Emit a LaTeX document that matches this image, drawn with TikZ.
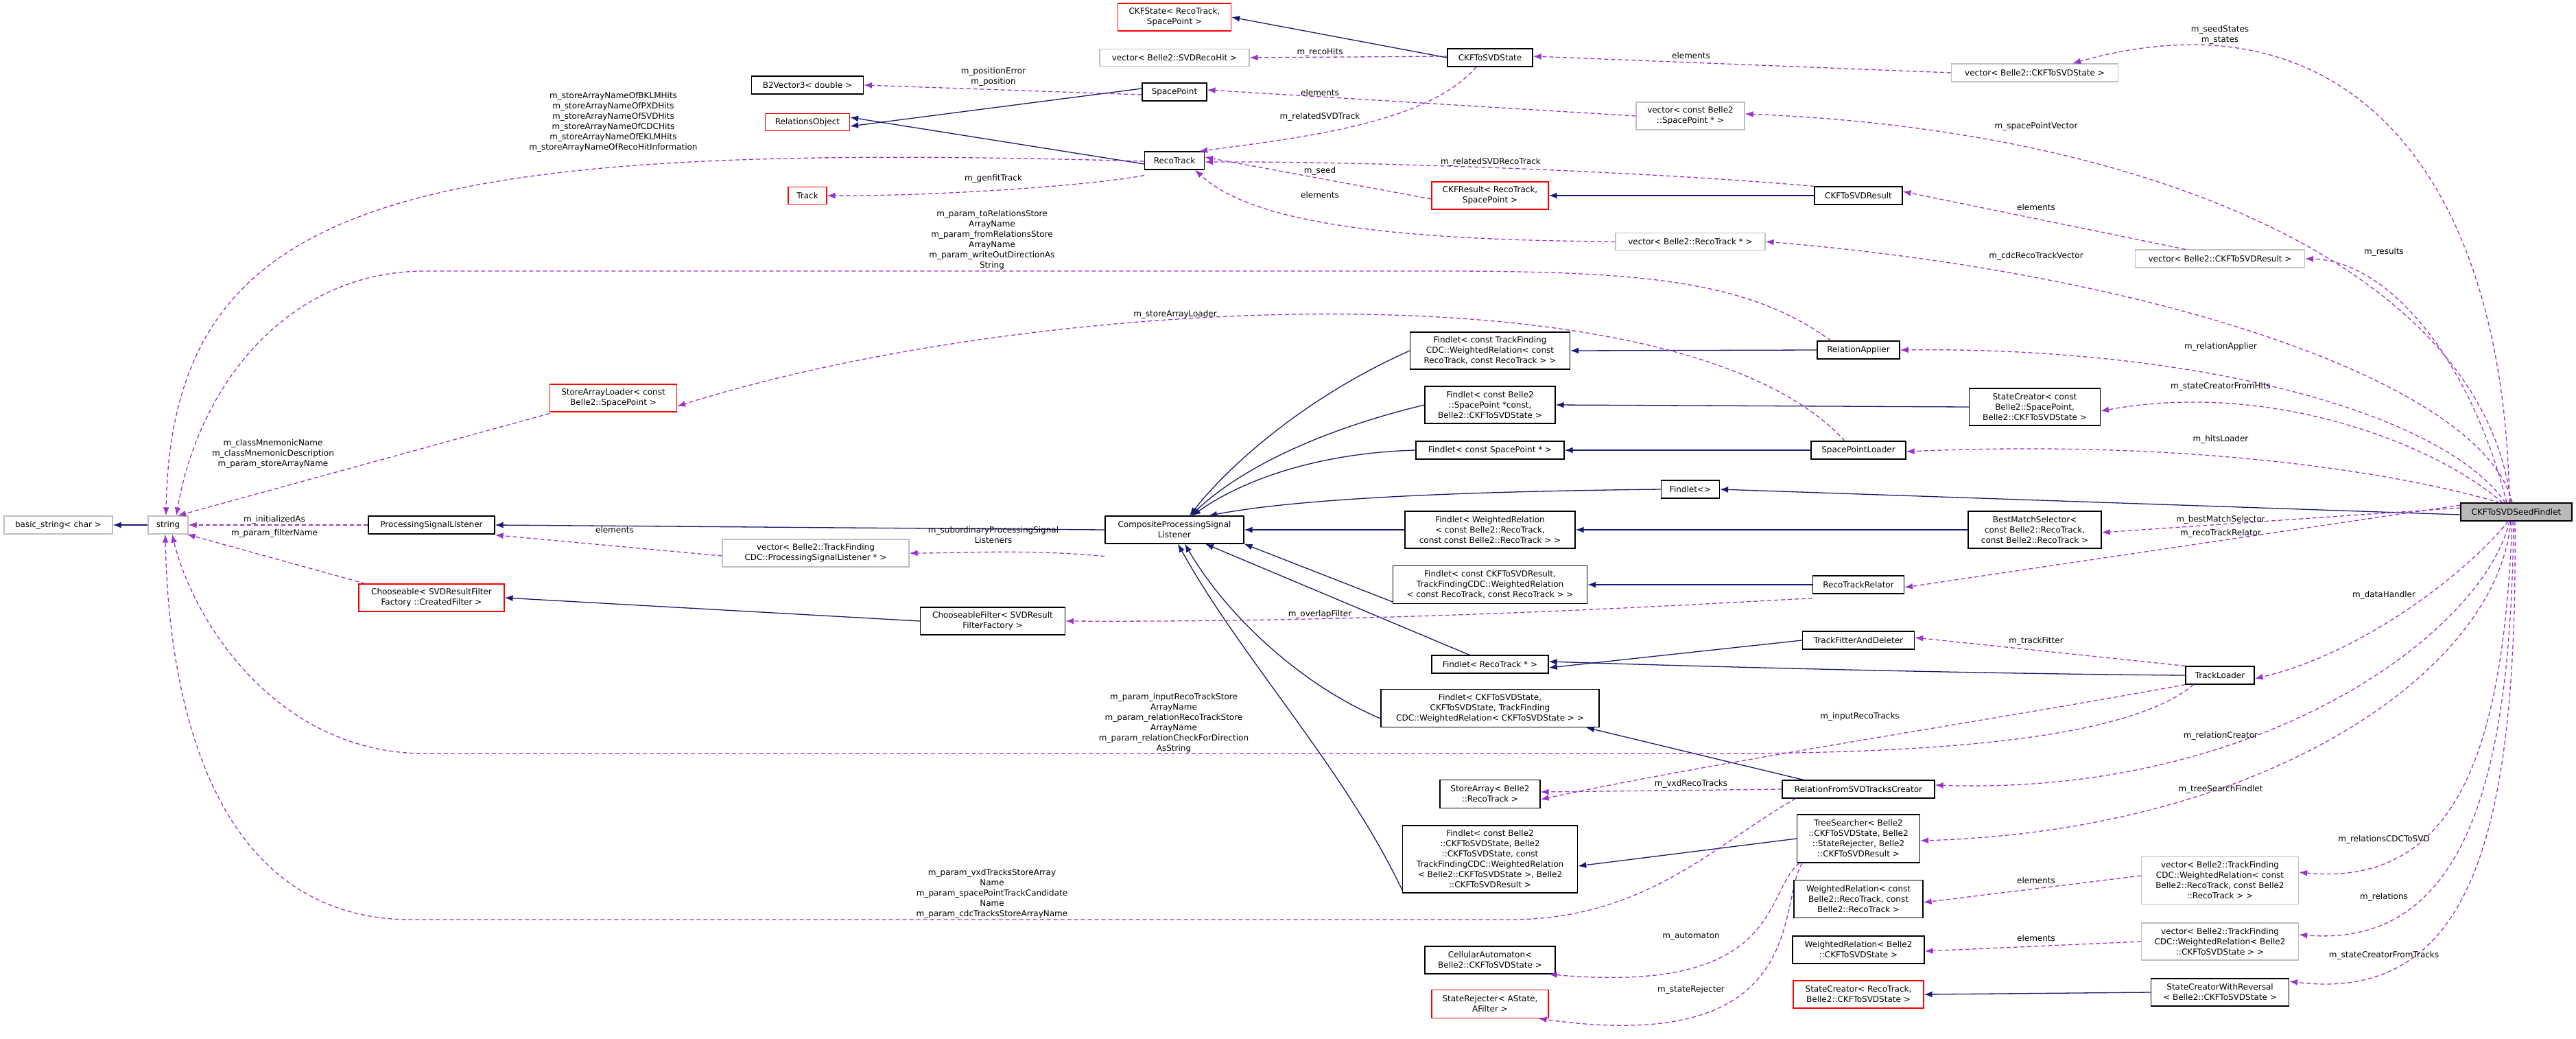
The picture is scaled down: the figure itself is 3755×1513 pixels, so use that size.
\documentclass[tikz,border=0pt]{standalone}
\usepackage{fontspec}
\setmainfont{DejaVu Sans}
\usetikzlibrary{arrows.meta}
\definecolor{inh}{HTML}{191970}
\definecolor{usec}{HTML}{9A32CD}
\definecolor{gbord}{HTML}{BFBFBF}
\tikzset{
  base/.style={font=\fontsize{12}{15}\selectfont, align=center, inner sep=0pt, fill=white, line width=1.2pt},
  cls/.style={base, draw=black},
  gcls/.style={base, draw=gbord},
  rcls/.style={base, draw=red},
  scls/.style={base, draw=black, fill=gray!55},
  lbl/.style={font=\fontsize{12}{15}\selectfont, align=center, inner sep=0pt},
  inhe/.style={draw=inh, line width=1.3pt, -{Latex[length=12pt,width=9pt]}},
  usee/.style={draw=usec, line width=1.3pt, dash pattern=on 6pt off 4pt, -{Latex[length=12pt,width=9pt]}},
}
\begin{document}
\begin{tikzpicture}[x=1pt,y=-1pt]
\useasboundingbox[fill=white] (0,0) rectangle (3755,1513);
% nodes
\node[cls, minimum width=163, minimum height=26] (b2v) at (1177,124) {B2Vector3< double >};
\node[rcls, minimum width=123, minimum height=25] (relobj) at (1177,178) {RelationsObject};
\node[rcls, minimum width=56, minimum height=25] (track) at (1177,285) {Track};
\node[rcls, minimum width=185, minimum height=40] (sal) at (894,580) {StoreArrayLoader< const\\Belle2::SpacePoint >};
\node[rcls, minimum width=165, minimum height=40] (ckfstate) at (1712,25) {CKFState< RecoTrack,\\SpacePoint >};
\node[gcls, minimum width=218, minimum height=25] (vsvdhit) at (1712,84) {vector< Belle2::SVDRecoHit >};
\node[cls, minimum width=124, minimum height=26] (ckfsvdstate) at (2172,84) {CKFToSVDState};
\node[cls, minimum width=94, minimum height=26] (sp) at (1712,134) {SpacePoint};
\node[gcls, minimum width=158, minimum height=40] (vsp) at (2464,169) {vector< const Belle2\\::SpacePoint * >};
\node[cls, minimum width=87, minimum height=26] (rt) at (1712,234) {RecoTrack};
\node[rcls, minimum width=170, minimum height=40] (ckfres) at (2172,285) {CKFResult< RecoTrack,\\SpacePoint >};
\node[gcls, minimum width=218, minimum height=25] (vrt) at (2464,352) {vector< Belle2::RecoTrack * >};
\node[cls, minimum width=233, minimum height=54] (f1) at (2172,511) {Findlet< const TrackFinding\\CDC::WeightedRelation< const\\RecoTrack, const RecoTrack > >};
\node[cls, minimum width=190, minimum height=54] (f2) at (2172,590) {Findlet< const Belle2\\::SpacePoint *const,\\Belle2::CKFToSVDState >};
\node[cls, minimum width=216, minimum height=26] (f3) at (2172,656) {Findlet< const SpacePoint * >};
\node[cls, minimum width=85, minimum height=26] (f4) at (2464,713) {Findlet<>};
\node[gcls, minimum width=243, minimum height=26] (vstate) at (2966,106) {vector< Belle2::CKFToSVDState >};
\node[cls, minimum width=128, minimum height=26] (ckfsvdres) at (2709,285) {CKFToSVDResult};
\node[gcls, minimum width=247, minimum height=26] (vres) at (3236,377) {vector< Belle2::CKFToSVDResult >};
\node[cls, minimum width=120, minimum height=26] (relapp) at (2709,510) {RelationApplier};
\node[cls, minimum width=191, minimum height=54] (sc1) at (2966,593) {StateCreator< const\\Belle2::SpacePoint,\\Belle2::CKFToSVDState >};
\node[cls, minimum width=138, minimum height=26] (spl) at (2709,656) {SpacePointLoader};
\node[scls, minimum width=162, minimum height=26] (seed) at (3668,746) {CKFToSVDSeedFindlet};
\node[gcls, minimum width=158, minimum height=26] (bstr) at (85,765) {basic\_string< char >};
\node[gcls, minimum width=58, minimum height=26] (str) at (245,765) {string};
\node[cls, minimum width=184, minimum height=26] (psl) at (629,765) {ProcessingSignalListener};
\node[gcls, minimum width=272, minimum height=40] (vpsl) at (1189,806) {vector< Belle2::TrackFinding\\CDC::ProcessingSignalListener * >};
\node[rcls, minimum width=212, minimum height=40] (choos) at (629,871) {Chooseable< SVDResultFilter\\Factory ::CreatedFilter >};
\node[cls, minimum width=202, minimum height=40] (cpsl) at (1712,772) {CompositeProcessingSignal\\Listener};
\node[cls, minimum width=248, minimum height=54] (f5) at (2172,772) {Findlet< WeightedRelation\\< const Belle2::RecoTrack,\\const const Belle2::RecoTrack > >};
\node[cls, minimum width=283, minimum height=55] (f6) at (2172,852) {Findlet< const CKFToSVDResult,\\TrackFindingCDC::WeightedRelation\\< const RecoTrack, const RecoTrack > >};
\node[cls, minimum width=211, minimum height=40] (cfilt) at (1447,905) {ChooseableFilter< SVDResult\\FilterFactory >};
\node[cls, minimum width=170, minimum height=26] (frt) at (2172,968) {Findlet< RecoTrack * >};
\node[cls, minimum width=318, minimum height=55] (f8) at (2172,1032) {Findlet< CKFToSVDState,\\CKFToSVDState, TrackFinding\\CDC::WeightedRelation< CKFToSVDState > >};
\node[cls, minimum width=146, minimum height=41] (sa) at (2172,1157) {StoreArray< Belle2\\::RecoTrack >};
\node[cls, minimum width=255, minimum height=98] (f9) at (2172,1252) {Findlet< const Belle2\\::CKFToSVDState, Belle2\\::CKFToSVDState, const\\TrackFindingCDC::WeightedRelation\\< Belle2::CKFToSVDState >, Belle2\\::CKFToSVDResult >};
\node[cls, minimum width=190, minimum height=40] (ca) at (2172,1399) {CellularAutomaton<\\Belle2::CKFToSVDState >};
\node[rcls, minimum width=170, minimum height=41] (srej) at (2172,1463) {StateRejecter< AState,\\AFilter >};
\node[cls, minimum width=222, minimum height=26] (rfc) at (2709,1150) {RelationFromSVDTracksCreator};
\node[cls, minimum width=194, minimum height=54] (bms) at (2966,772) {BestMatchSelector<\\const Belle2::RecoTrack,\\const Belle2::RecoTrack >};
\node[cls, minimum width=133, minimum height=26] (rtr) at (2709,852) {RecoTrackRelator};
\node[cls, minimum width=163, minimum height=26] (tfd) at (2709,933) {TrackFitterAndDeleter};
\node[cls, minimum width=100, minimum height=26] (tl) at (3236,984) {TrackLoader};
\node[cls, minimum width=179, minimum height=70] (ts) at (2709,1222) {TreeSearcher< Belle2\\::CKFToSVDState, Belle2\\::StateRejecter, Belle2\\::CKFToSVDResult >};
\node[gcls, minimum width=229, minimum height=69] (vwr1) at (3236,1283) {vector< Belle2::TrackFinding\\CDC::WeightedRelation< const\\Belle2::RecoTrack, const Belle2\\::RecoTrack > >};
\node[gcls, minimum width=229, minimum height=54] (vwr2) at (3236,1372) {vector< Belle2::TrackFinding\\CDC::WeightedRelation< Belle2\\::CKFToSVDState > >};
\node[rcls, minimum width=190, minimum height=40] (sc2) at (2709,1449) {StateCreator< RecoTrack,\\Belle2::CKFToSVDState >};
\node[cls, minimum width=201, minimum height=40] (scr) at (3236,1446) {StateCreatorWithReversal\\< Belle2::CKFToSVDState >};

% tree searcher edges drawn before the boxes they pass behind
\draw[usee] ([xshift=4]ts.south west) .. controls (2570,1300) and (2600,1450) .. ([xshift=-10]ca.south east);
\node[lbl] (l25) at (2465,1365) {m\_automaton};
\draw[usee] ([xshift=8]ts.south west) .. controls (2590,1320) and (2640,1540) .. ([xshift=-15]srej.south east);
\node[lbl] (l26) at (2465,1442) {m\_stateRejecter};
\node[cls, minimum width=188, minimum height=55] (wr1) at (2709,1310) {WeightedRelation< const\\Belle2::RecoTrack, const\\Belle2::RecoTrack >};
\node[cls, minimum width=192, minimum height=40] (wr2) at (2709,1384) {WeightedRelation< Belle2\\::CKFToSVDState >};

% inheritance
\draw[inhe] (ckfsvdstate.west) -- (ckfstate.east);
\draw[inhe] ([yshift=5]sp.west) -- ([yshift=-6]relobj.east);
\draw[inhe] ([yshift=-5]rt.west) -- ([yshift=7]relobj.east);
\draw[inhe] (ckfsvdres.west) -- (ckfres.east);
\draw[inhe] (str.west) -- (bstr.east);
\draw[inhe] (cpsl.west) -- (psl.east);
\draw[inhe] (f1.west) .. controls (1900,580) and (1790,680) .. ([xshift=22]cpsl.north);
\draw[inhe] (f2.west) .. controls (1910,630) and (1800,690) .. ([xshift=24]cpsl.north);
\draw[inhe] (f3.west) .. controls (1920,660) and (1810,700) .. ([xshift=26]cpsl.north);
\draw[inhe] (f4.west) .. controls (2150,716) and (1900,725) .. ([xshift=50]cpsl.north);
\draw[inhe] (relapp.west) -- (f1.east);
\draw[inhe] (sc1.west) -- (f2.east);
\draw[inhe] (spl.west) -- (f3.east);
\draw[inhe] ([yshift=-4]seed.west) -- (f4.east);
\draw[inhe] (bms.west) -- (f5.east);
\draw[inhe] (f5.west) -- (cpsl.east);
\draw[inhe] ([yshift=-25]f6.west) -- (cpsl.south east);
\draw[inhe] (rtr.west) -- (f6.east);
\draw[inhe] (cfilt.west) -- (choos.east);
\draw[inhe] ([xshift=-30]frt.north) -- ([xshift=45]cpsl.south);
\draw[inhe] (tfd.west) -- ([yshift=-5]frt.east);
\draw[inhe] (tl.west) .. controls (2900,982) and (2500,972) .. ([yshift=4]frt.east);
\draw[inhe] ([yshift=-15]f8.west) .. controls (1900,1000) and (1790,900) .. ([xshift=15]cpsl.south);
\draw[inhe] ([yshift=-45]f9.west) .. controls (1960,1120) and (1810,960) .. ([xshift=5]cpsl.south);
\draw[inhe] ([xshift=-80]rfc.north) -- ([xshift=140]f8.south);
\draw[inhe] (ts.west) -- ([yshift=-10]f9.east);
\draw[inhe] (scr.west) -- (sc2.east);

% usage
\draw[usee] ([yshift=2]ckfsvdstate.west) -- (vsvdhit.east);
\node[lbl] (l1) at (1924,76) {m\_recoHits};
\draw[usee] ([xshift=-20]ckfsvdstate.south) .. controls (2080,180) and (1900,200) .. ([xshift=-8]rt.north east);
\node[lbl] (l2) at (1924,170) {m\_relatedSVDTrack};
\draw[usee] ([yshift=-4]sp.west) -- (b2v.east);
\node[lbl] (l3) at (1448,112) {m\_positionError\\m\_position};
\draw[usee] ([yshift=-8]rt.south west) .. controls (1580,272) and (1350,286) .. (track.east);
\node[lbl] (l4) at (1448,260) {m\_genfitTrack};
\draw[usee] ([yshift=-1]rt.west) .. controls (600,205) and (250,280) .. ([xshift=-3]str.north);
\node[lbl] (l5) at (894,178) {m\_storeArrayNameOfBKLMHits\\m\_storeArrayNameOfPXDHits\\m\_storeArrayNameOfSVDHits\\m\_storeArrayNameOfCDCHits\\m\_storeArrayNameOfEKLMHits\\m\_storeArrayNameOfRecoHitInformation};
\draw[usee] (vsp.west) -- ([yshift=3]sp.east);
\node[lbl] (l6) at (1924,135) {elements};
\draw[usee] (ckfsvdres.north west) .. controls (2400,250) and (2000,235) .. ([yshift=-2]rt.east);
\node[lbl] (l7) at (2173,236) {m\_relatedSVDRecoTrack};
\draw[usee] ([yshift=-5]ckfres.west) -- ([yshift=5]rt.east);
\node[lbl] (l8) at (1924,249) {m\_seed};
\draw[usee] (vrt.west) .. controls (2000,350) and (1820,320) .. ([xshift=30]rt.south);
\node[lbl] (l9) at (1924,284) {elements};
\draw[usee] (vstate.west) -- ([yshift=2]ckfsvdstate.east);
\node[lbl] (l10) at (2465,81) {elements};
\draw[usee] ([xshift=-50]vres.north) -- ([yshift=6]ckfsvdres.east);
\node[lbl] (l11) at (2968,302) {elements};
\draw[usee] ([xshift=-40]relapp.north) .. controls (2550,410) and (2400,395) .. (2100,395) -- (620,395) .. controls (420,395) and (290,560) .. ([xshift=12]str.north);
\node[lbl] (l12) at (1446,350) {m\_param\_toRelationsStore\\ArrayName\\m\_param\_fromRelationsStore\\ArrayName\\m\_param\_writeOutDirectionAs\\String};
\draw[usee] ([xshift=-20]spl.north) .. controls (2450,380) and (1500,430) .. ([yshift=-12]sal.east);
\node[lbl] (l13) at (1713,458) {m\_storeArrayLoader};
\draw[usee] ([yshift=-2]sal.south west) -- ([xshift=14]str.north);
\node[lbl] (l14) at (398,661) {m\_classMnemonicName\\m\_classMnemonicDescription\\m\_param\_storeArrayName};
\draw[usee] (psl.west) -- (str.east);
\node[lbl] (l15) at (400,757) {m\_initializedAs};
\draw[usee] ([xshift=10]choos.north west) -- ([xshift=-2]str.south east);
\node[lbl] (l16) at (400,777) {m\_param\_filterName};
\draw[usee] ([yshift=-18]cpsl.south west) .. controls (1500,800) and (1400,806) .. (vpsl.east);
\node[lbl] (l17) at (1448,780) {m\_subordinaryProcessingSignal\\Listeners};
\draw[usee] ([yshift=-4]vpsl.west) -- ([yshift=-1]psl.south east);
\node[lbl] (l18) at (896,772) {elements};
\draw[usee] ([yshift=-6]rtr.south west) .. controls (2400,885) and (2000,907) .. (cfilt.east);
\node[lbl] (l19) at (1924,895) {m\_overlapFilter};
\draw[usee] ([xshift=12]tl.south west) .. controls (3100,1080) and (2800,1098) .. (2500,1098) -- (620,1098) .. controls (400,1098) and (280,900) .. ([xshift=6]str.south);
\node[lbl] (l20) at (1711,1054) {m\_param\_inputRecoTrackStore\\ArrayName\\m\_param\_relationRecoTrackStore\\ArrayName\\m\_param\_relationCheckForDirection\\AsString};
\draw[usee] (tl.south west) .. controls (2900,1050) and (2500,1110) .. ([yshift=-8]sa.east);
\node[lbl] (l21) at (2711,1044) {m\_inputRecoTracks};
\draw[usee] (rfc.west) -- ([yshift=3]sa.east);
\node[lbl] (l22) at (2465,1142) {m\_vxdRecoTracks};
\draw[usee] ([xshift=20]rfc.south west) .. controls (2500,1230) and (2400,1340) .. (2200,1340) -- (600,1340) .. controls (300,1340) and (245,1000) .. ([xshift=-4]str.south);
\node[lbl] (l23) at (1446,1302) {m\_param\_vxdTracksStoreArray\\Name\\m\_param\_spacePointTrackCandidate\\Name\\m\_param\_cdcTracksStoreArrayName};
\draw[usee] (tl.north west) -- ([yshift=4]tfd.east);
\node[lbl] (l24) at (2968,934) {m\_trackFitter};
\draw[usee] ([yshift=7]vwr1.west) -- ([yshift=-5]wr1.east);
\node[lbl] (l27) at (2968,1283) {elements};
\draw[usee] (vwr2.west) -- ([yshift=-2]wr2.east);
\node[lbl] (l28) at (2968,1367) {elements};

% from seed findlet
\draw[usee] ([xshift=-10]seed.north) .. controls (3650,250) and (3420,-20) .. ([xshift=55]vstate.north);
\node[lbl] (m1) at (3236,51) {m\_seedStates\\m\_states};
\draw[usee] ([xshift=-8]seed.north) .. controls (3620,400) and (3150,190) .. ([yshift=3]vsp.east);
\node[lbl] (m2) at (2968,184) {m\_spacePointVector};
\draw[usee] ([xshift=-14]seed.north) .. controls (3600,520) and (3480,380) .. (vres.east);
\node[lbl] (m3) at (3475,367) {m\_results};
\draw[usee] ([xshift=-6]seed.north) .. controls (3620,560) and (3150,400) .. (vrt.east);
\node[lbl] (m4) at (2968,373) {m\_cdcRecoTrackVector};
\draw[usee] ([xshift=-16]seed.north) .. controls (3560,600) and (3200,505) .. (relapp.east);
\node[lbl] (m5) at (3237,505) {m\_relationApplier};
\draw[usee] ([xshift=-20]seed.north) .. controls (3540,640) and (3300,555) .. ([yshift=-6]sc1.east);
\node[lbl] (m6) at (3237,563) {m\_stateCreatorFromHits};
\draw[usee] ([xshift=-24]seed.north) .. controls (3500,690) and (3200,640) .. ([yshift=-2]spl.east);
\node[lbl] (m7) at (3237,640) {m\_hitsLoader};
\draw[usee] ([yshift=6]seed.west) -- ([yshift=-4]bms.east);
\node[lbl] (m8) at (3237,757) {m\_bestMatchSelector};
\draw[usee] ([yshift=10]seed.west) -- ([yshift=-4]rtr.east);
\node[lbl] (m9) at (3237,777) {m\_recoTrackRelator};
\draw[usee] ([xshift=-12]seed.south) .. controls (3600,830) and (3450,950) .. ([yshift=-5]tl.east);
\node[lbl] (m10) at (3475,867) {m\_dataHandler};
\draw[usee] ([xshift=-10]seed.south) .. controls (3620,920) and (3300,1160) .. ([yshift=6]rfc.east);
\node[lbl] (m11) at (3237,1072) {m\_relationCreator};
\draw[usee] ([xshift=-8]seed.south) .. controls (3640,980) and (3300,1210) .. ([yshift=-3]ts.east);
\node[lbl] (m12) at (3475,1223) {m\_relationsCDCToSVD};
\node[lbl] (m13) at (3237,1150) {m\_treeSearchFindlet};
\draw[usee] ([xshift=-6]seed.south) .. controls (3650,1050) and (3600,1295) .. ([yshift=12]vwr1.east);
\draw[usee] ([xshift=-4]seed.south) .. controls (3660,1120) and (3600,1382) .. ([yshift=10]vwr2.east);
\node[lbl] (m14) at (3475,1307) {m\_relations};
\draw[usee] ([xshift=-2]seed.south) .. controls (3670,1220) and (3600,1462) .. ([yshift=16]scr.east);
\node[lbl] (m15) at (3475,1392) {m\_stateCreatorFromTracks};
\end{tikzpicture}
\end{document}
